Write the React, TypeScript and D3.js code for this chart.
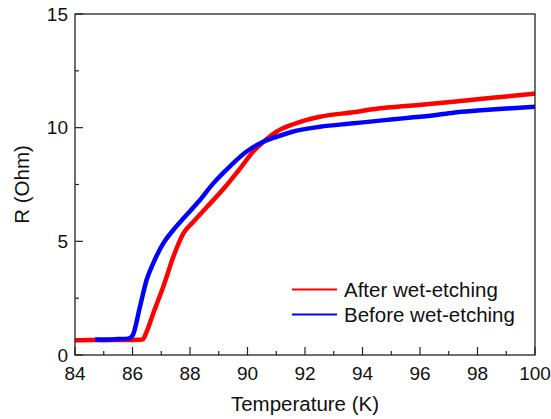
import React from "react";
import * as d3 from "d3";

const afterT = [84, 84.5, 85, 85.5, 86, 86.35, 86.5, 86.72, 87.07, 87.42, 87.77, 88.11, 88.58, 89.16, 89.74, 90.2, 90.67, 91.01, 91.59, 92.52, 93.68, 94.61, 95.5, 96.5, 97.16, 98, 99, 100];
const afterR = [0.65, 0.66, 0.65, 0.66, 0.66, 0.68, 1.05, 1.83, 3.0, 4.32, 5.35, 5.85, 6.5, 7.3, 8.2, 8.95, 9.5, 9.82, 10.15, 10.48, 10.68, 10.85, 10.95, 11.06, 11.14, 11.25, 11.37, 11.5];

const beforeT = [84.7, 85, 85.5, 85.85, 86.0, 86.26, 86.49, 86.72, 87.07, 87.42, 87.8, 88.3, 88.81, 89.39, 89.97, 90.55, 91.01, 91.5, 92.52, 93.68, 94.61, 95.5, 96.5, 97.16, 98, 99, 100];
const beforeR = [0.68, 0.68, 0.7, 0.72, 0.85, 2.13, 3.3, 4.03, 4.91, 5.5, 6.05, 6.75, 7.55, 8.3, 8.95, 9.38, 9.6, 9.8, 10.04, 10.19, 10.31, 10.42, 10.55, 10.66, 10.75, 10.84, 10.92];

const xTicks = [84, 86, 88, 90, 92, 94, 96, 98, 100];
const xMinor = [85, 87, 89, 91, 93, 95, 97, 99];
const yTicks = [0, 5, 10, 15];
const yMinor = [2.5, 7.5, 12.5];

const seriesNames = ["After wet-etching", "Before wet-etching"];
const seriesColors = ["#ff0000", "#0000ff"];

export default function App() {
  const W = 551, H = 419;
  const L = 75, R = 535, T = 14, B = 355;
  const x = d3.scaleLinear().domain([84, 100]).range([L, R]);
  const y = d3.scaleLinear().domain([0, 15]).range([B, T]);
  const line = d3
    .line<[number, number]>()
    .x((d) => x(d[0]))
    .y((d) => y(d[1]))
    .curve(d3.curveMonotoneX);
  const after = afterT.map((t, i) => [t, afterR[i]] as [number, number]);
  const before = beforeT.map((t, i) => [t, beforeR[i]] as [number, number]);
  const font = "'Liberation Sans', Arial, sans-serif";
  const axisColor = "#222";
  return (
    <svg width={W} height={H} style={{ position: "absolute", left: 0, top: 0, background: "#fff" }} fontFamily={font}>
      <defs>
        <clipPath id="plotclip">
          <rect x={L} y={T} width={R - L} height={B - T} />
        </clipPath>
      </defs>
      <g clipPath="url(#plotclip)">
        <path d={line(after) || ""} fill="none" stroke={seriesColors[0]} strokeWidth={4.5} strokeLinejoin="round" />
        <path d={line(before) || ""} fill="none" stroke={seriesColors[1]} strokeWidth={4.5} strokeLinejoin="round" />
      </g>
      <rect x={L} y={T} width={R - L} height={B - T} fill="none" stroke={axisColor} strokeWidth={1.3} />
      {xTicks.map((t) => (
        <g key={"xt" + t}>
          <line x1={x(t)} x2={x(t)} y1={B} y2={B - 8} stroke={axisColor} strokeWidth={1.2} />
          <text x={x(t)} y={380} textAnchor="middle" fontSize={19} fill="#111">{t}</text>
        </g>
      ))}
      {xMinor.map((t) => (
        <line key={"xm" + t} x1={x(t)} x2={x(t)} y1={B} y2={B - 4} stroke={axisColor} strokeWidth={1.2} />
      ))}
      {yTicks.map((t) => (
        <g key={"yt" + t}>
          <line x1={L} x2={L + 8} y1={y(t)} y2={y(t)} stroke={axisColor} strokeWidth={1.2} />
          <text x={68} y={y(t)} dy="0.35em" textAnchor="end" fontSize={19} fill="#111">{t}</text>
        </g>
      ))}
      {yMinor.map((t) => (
        <line key={"ym" + t} x1={L} x2={L + 4} y1={y(t)} y2={y(t)} stroke={axisColor} strokeWidth={1.2} />
      ))}
      <text x={(L + R) / 2} y={411} textAnchor="middle" fontSize={20.5} fill="#111">Temperature (K)</text>
      <text transform={`translate(29,${(T + B) / 2}) rotate(-90)`} textAnchor="middle" fontSize={20.5} fill="#111">R (Ohm)</text>
      {seriesNames.map((n, i) => (
        <g key={n} transform={`translate(0,${i * 25})`}>
          <line x1={292} x2={337} y1={289.5} y2={289.5} stroke={seriesColors[i]} strokeWidth={1.8} />
          <text x={344} y={296.5} fontSize={20.5} fill="#111">{n}</text>
        </g>
      ))}
    </svg>
  );
}
